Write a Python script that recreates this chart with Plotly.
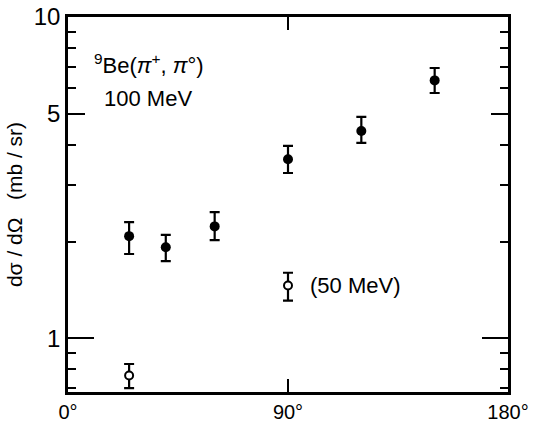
import plotly.graph_objects as go

# 100 MeV data (filled)
angle_100 = [25, 40, 60, 90, 120, 150]
xs_100 = [2.08, 1.92, 2.23, 3.61, 4.42, 6.35]
err_up_100 = [0.22, 0.18, 0.24, 0.36, 0.47, 0.59]
err_dn_100 = [0.25, 0.18, 0.21, 0.34, 0.36, 0.55]

# 50 MeV data (open)
angle_50 = [25, 90]
xs_50 = [0.766, 1.46]
err_up_50 = [0.066, 0.14]
err_dn_50 = [0.066, 0.15]

x_ticks = [0, 90, 180]
x_labels = ["0°", "90°", "180°"]
y_major = [1, 5, 10]
y_minor = [0.7, 0.8, 0.9, 2, 3, 4, 6, 7, 8, 9]

FONT = "Liberation Sans"

fig = go.Figure()
fig.add_trace(go.Scatter(
    x=angle_100, y=xs_100, mode="markers",
    marker=dict(symbol="circle", size=10, color="black"),
    error_y=dict(type="data", symmetric=False, array=err_up_100, arrayminus=err_dn_100,
                 color="black", thickness=2.2, width=5),
    showlegend=False))
fig.add_trace(go.Scatter(
    x=angle_50, y=xs_50, mode="markers",
    marker=dict(symbol="circle", size=8, color="white", line=dict(color="black", width=2)),
    error_y=dict(type="data", symmetric=False, array=err_up_50, arrayminus=err_dn_50,
                 color="black", thickness=2.2, width=5),
    showlegend=False))
# invisible trace to activate second y-axis (longer tick at 1)
fig.add_trace(go.Scatter(x=[None], y=[None], yaxis="y2", showlegend=False, hoverinfo="skip"))

fig.update_layout(
    width=538, height=423,
    margin=dict(l=68, r=30, t=17, b=31, autoexpand=False),
    paper_bgcolor="white", plot_bgcolor="white",
    font=dict(family=FONT, color="black"),
    xaxis=dict(range=[0, 180], tickvals=x_ticks, ticktext=x_labels, automargin=False,
               ticks="inside", ticklen=13, tickwidth=2, tickcolor="black",
               showline=True, linecolor="black", linewidth=2.5, mirror="ticks",
               showgrid=False, zeroline=False,
               tickfont=dict(family=FONT, size=20), ticklabelstandoff=0),
    yaxis=dict(type="log", range=[-0.167, 1], tickvals=y_major, ticktext=["1", "5", "10"],
               automargin=False,
               ticks="inside", ticklen=17, tickwidth=2, tickcolor="black",
               showline=True, linecolor="black", linewidth=2.5, mirror="ticks",
               showgrid=False, zeroline=False,
               tickfont=dict(family=FONT, size=24),
               minor=dict(tickvals=y_minor, ticks="inside", ticklen=8, tickwidth=2,
                          tickcolor="black", showgrid=False),
               title=dict(text="dσ / dΩ   (mb / sr)", font=dict(family=FONT, size=21), standoff=6)),
    yaxis2=dict(type="log", range=[-0.167, 1], overlaying="y", side="left", automargin=False,
                tickvals=[1], ticks="inside", ticklen=26, tickwidth=2, tickcolor="black",
                showticklabels=False, showgrid=False, zeroline=False, mirror="ticks",
                showline=False),
    annotations=[
        dict(xref="paper", yref="paper", x=0.055, y=0.875, xanchor="left", yanchor="middle",
             text="<sup>9</sup>Be(<i>π</i><sup>+</sup>, <i>π</i>°)", showarrow=False,
             font=dict(family=FONT, size=22)),
        dict(xref="paper", yref="paper", x=0.078, y=0.782, xanchor="left", yanchor="middle",
             text="100 MeV", showarrow=False, font=dict(family=FONT, size=22)),
        dict(xref="paper", yref="paper", x=0.545, y=0.284, xanchor="left", yanchor="middle",
             text="(50 MeV)", showarrow=False, font=dict(family=FONT, size=22)),
    ],
)

fig.write_html("out.html")
